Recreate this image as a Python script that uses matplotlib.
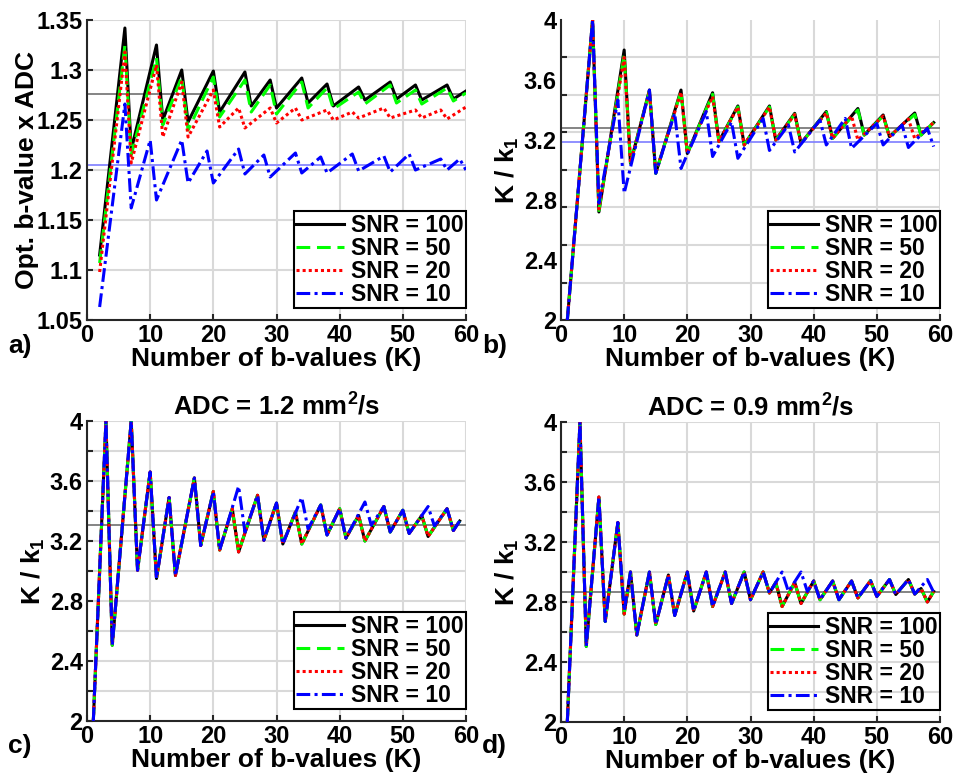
import numpy as np
import matplotlib
matplotlib.use("Agg")
import matplotlib.pyplot as plt
from matplotlib.ticker import MultipleLocator, FuncFormatter

plt.rcParams['font.family'] = ['Liberation Sans', 'DejaVu Sans']
plt.rcParams['font.weight'] = 'bold'
plt.rcParams['mathtext.fontset'] = 'custom'
plt.rcParams['mathtext.rm'] = 'Liberation Sans:bold'
plt.rcParams['mathtext.it'] = 'Liberation Sans:bold'
plt.rcParams['mathtext.bf'] = 'Liberation Sans:bold'

snr_labels = ['SNR = 100', 'SNR = 50', 'SNR = 20', 'SNR = 10']

# ---- panel a: optimal b-value x ADC ----
a_k_100 = [2, 6, 7, 11, 12, 15, 16, 20, 21, 25, 26, 29, 30, 34, 35, 38, 39, 43, 44, 48, 49, 52, 53, 57, 58, 60]
a_v_100 = [1.115, 1.342, 1.220, 1.325, 1.250, 1.300, 1.248, 1.299, 1.258, 1.298, 1.264, 1.290, 1.262,
           1.292, 1.267, 1.286, 1.264, 1.283, 1.270, 1.288, 1.271, 1.285, 1.270, 1.285, 1.271, 1.279]
a_v_50 = [1.107, 1.325, 1.215, 1.312, 1.245, 1.293, 1.240, 1.293, 1.253, 1.290, 1.258, 1.285, 1.256,
          1.288, 1.262, 1.282, 1.261, 1.278, 1.266, 1.285, 1.267, 1.280, 1.266, 1.282, 1.269, 1.277]
a_k_20 = [2, 6, 7, 11, 12, 15, 16, 20, 21, 24, 25, 29, 30, 33, 34, 38, 39, 42, 43, 47, 48, 52, 53, 56, 57, 60]
a_v_20 = [1.098, 1.318, 1.207, 1.305, 1.233, 1.288, 1.233, 1.280, 1.243, 1.262, 1.242, 1.262, 1.247,
          1.262, 1.250, 1.260, 1.250, 1.258, 1.252, 1.262, 1.252, 1.260, 1.252, 1.260, 1.251, 1.263]
a_k_10 = [2, 6, 7, 10, 11, 15, 16, 19, 20, 24, 25, 28, 29, 33, 34, 37, 38, 42, 43, 47, 48, 51, 52, 56, 57, 59, 60]
a_v_10 = [1.063, 1.266, 1.162, 1.230, 1.170, 1.230, 1.187, 1.219, 1.187, 1.221, 1.196, 1.215, 1.193, 1.217,
          1.197, 1.213, 1.197, 1.216, 1.199, 1.214, 1.198, 1.216, 1.200, 1.211, 1.200, 1.211, 1.200]
a_ref = [1.2757, 1.2055]

# ---- panel b: K / k1 ----
b_k_100 = [1, 5, 6, 10, 11, 14, 15, 19, 20, 24, 25, 28, 29, 33, 34, 37, 38, 42, 43, 47, 48, 51, 52, 56, 57, 59]
b_v_100 = [2.0, 4.0, 2.72, 3.80, 3.044, 3.533, 2.978, 3.533, 3.11, 3.515, 3.19, 3.427, 3.167,
           3.427, 3.20, 3.378, 3.178, 3.39, 3.211, 3.41, 3.233, 3.367, 3.222, 3.38, 3.233, 3.316]
b_v_50 = [2.0, 4.0, 2.73, 3.77, 3.05, 3.525, 2.978, 3.525, 3.11, 3.505, 3.19, 3.42, 3.167,
          3.42, 3.20, 3.372, 3.178, 3.385, 3.211, 3.40, 3.233, 3.36, 3.222, 3.37, 3.233, 3.316]
b_k_20 = [1, 5, 6, 10, 11, 14, 15, 19, 20, 24, 25, 28, 29, 33, 34, 37, 38, 42, 43, 46, 47, 51, 52, 55, 56, 59]
b_v_20 = [2.0, 4.0, 2.74, 3.75, 3.05, 3.52, 2.98, 3.52, 3.11, 3.49, 3.19, 3.42, 3.167,
          3.42, 3.20, 3.37, 3.178, 3.38, 3.211, 3.36, 3.20, 3.36, 3.222, 3.34, 3.21, 3.316]
b_k_10 = [1, 5, 6, 9, 10, 14, 15, 18, 19, 23, 24, 27, 28, 32, 33, 36, 37, 41, 42, 45, 46, 50, 51, 54, 55, 58, 59]
b_v_10 = [2.0, 4.0, 2.78, 3.467, 2.845, 3.533, 2.978, 3.378, 3.01, 3.39, 3.09, 3.32, 3.078, 3.344,
          3.13, 3.30, 3.12, 3.333, 3.167, 3.344, 3.144, 3.31, 3.167, 3.30, 3.15, 3.278, 3.156]
b_ref = [3.282, 3.185]

# ---- panel c: ADC = 1.2 ----
c_k = [1, 3, 4, 7, 8, 10, 11, 13, 14, 17, 18, 20, 21, 23, 24, 27, 28, 30, 31, 33, 34, 37, 38, 40,
       41, 43, 44, 47, 48, 50, 51, 53, 54, 57, 58, 59]
c_v = [2.0, 4.0, 2.505, 4.0, 3.005, 3.66, 2.95, 3.49, 2.97, 3.62, 3.17, 3.53, 3.14, 3.415, 3.127,
       3.505, 3.205, 3.453, 3.18, 3.393, 3.18, 3.44, 3.24, 3.415, 3.22, 3.37, 3.20, 3.43, 3.26,
       3.405, 3.25, 3.37, 3.23, 3.415, 3.27, 3.333]
c_k_10 = [1, 3, 4, 7, 8, 10, 11, 13, 14, 17, 18, 20, 21, 24, 25, 27, 28, 30, 31, 34, 35, 37, 38, 40,
          41, 44, 45, 47, 48, 50, 51, 54, 55, 57, 58, 59]
c_v_10 = [2.0, 4.0, 2.505, 4.0, 3.005, 3.66, 2.95, 3.49, 2.97, 3.62, 3.17, 3.53, 3.14, 3.565, 3.26,
          3.505, 3.205, 3.453, 3.18, 3.49, 3.28, 3.44, 3.24, 3.415, 3.22, 3.46, 3.305, 3.43, 3.26,
          3.405, 3.25, 3.43, 3.30, 3.415, 3.27, 3.333]
c_ref = 3.31

# ---- panel d: ADC = 0.9 ----
d_k = [1, 3, 4, 6, 7, 9, 10, 11, 12, 14, 15, 17, 18, 20, 21, 23, 24, 26, 27, 29, 30, 32, 33, 34,
       35, 37, 38, 40, 41, 43, 44, 46, 47, 49, 50, 52, 53, 55, 56, 57, 58, 59]
d_v = [2.0, 4.0, 2.504, 3.50, 2.67, 3.33, 2.72, 3.0, 2.58, 3.0, 2.65, 2.98, 2.71, 3.0, 2.74, 3.0,
       2.77, 3.0, 2.79, 3.0, 2.815, 3.0, 2.86, 2.93, 2.77, 2.93, 2.79, 2.94, 2.815, 2.94, 2.815,
       2.94, 2.827, 2.942, 2.837, 2.95, 2.85, 2.95, 2.853, 2.89, 2.80, 2.87]
d_k_10 = [1, 3, 4, 6, 7, 9, 10, 11, 12, 14, 15, 17, 18, 20, 21, 23, 24, 26, 27, 29, 30, 32, 33, 35,
          36, 38, 39, 40, 41, 43, 44, 46, 47, 49, 50, 52, 53, 55, 56, 58, 59]
d_v_10 = [2.0, 4.0, 2.504, 3.50, 2.67, 3.33, 2.74, 3.0, 2.58, 3.0, 2.65, 2.98, 2.71, 3.0, 2.74, 3.0,
          2.77, 3.0, 2.79, 3.0, 2.815, 3.0, 2.86, 3.0, 2.87, 3.0, 2.87, 2.94, 2.815, 2.94, 2.815,
          2.94, 2.827, 2.942, 2.837, 2.95, 2.85, 2.95, 2.853, 2.95, 2.865]
d_ref = 2.867

colors = ['black', '#00ff00', '#ff0000', '#0000ff']
styles = ['-', (0, (4.5, 2.2)), (0, (1.0, 1.0)), (0, (4.5, 1.4, 1.0, 1.4))]
FS = 17      # tick labels
FG = 16.5    # legend
FL = 19      # axis labels
FT = 18.5    # titles

fig = plt.figure(figsize=(9.61, 7.80), dpi=100)
W, H = 961.0, 780.0
gfmt = FuncFormatter(lambda v, p: '%g' % round(v, 4))


def make_ax(left, top, right, bottom):
    return fig.add_axes([left / W, 1 - bottom / H, (right - left) / W, (bottom - top) / H])


def style_ax(ax):
    for s in ['top', 'right']:
        ax.spines[s].set_visible(False)
    for s in ['left', 'bottom']:
        ax.spines[s].set_color('#262626')
        ax.spines[s].set_linewidth(1.5)
    ax.set_xlim(0, 60)
    ax.xaxis.set_major_locator(MultipleLocator(10))
    ax.grid(True, which='both', color='#d9d9d9', linewidth=1.5)
    ax.set_axisbelow(True)
    ax.tick_params(which='both', direction='in', length=4, width=1.5, color='#262626',
                   labelsize=FS, pad=3)
    ax.yaxis.set_major_formatter(gfmt)
    ax.set_xlabel('Number of b-values (K)', fontsize=FL, fontweight='bold', labelpad=0)


def draw(ax, series, loc_y):
    for (k, v), c, ls, lab in zip(series, colors, styles, snr_labels):
        ax.plot(k, v, color=c, linestyle=ls, linewidth=2.2, label=lab, zorder=3)
    leg = ax.legend(loc='lower right', bbox_to_anchor=(1.0, loc_y), borderaxespad=0,
                    fontsize=FG, labelspacing=0.0, handlelength=2.1, handletextpad=0.3,
                    borderpad=0.1, fancybox=False, framealpha=1, edgecolor='black')
    leg.get_frame().set_linewidth(1.5)
    return leg


# panel a
ax = make_ax(87, 20, 466, 320)
style_ax(ax)
ax.axhline(a_ref[0], color='#707070', linewidth=1.2, zorder=2)
ax.axhline(a_ref[1], color='#7d7dff', linewidth=1.2, zorder=2)
draw(ax, [(a_k_100, a_v_100), (a_k_100, a_v_50), (a_k_20, a_v_20), (a_k_10, a_v_10)], 0.04)
ax.set_ylim(1.05, 1.35)
ax.yaxis.set_major_locator(MultipleLocator(0.05))
ax.set_ylabel('Opt. b-value x ADC', fontsize=FL, fontweight='bold', labelpad=-2)

# panel b
ax = make_ax(561, 20, 940, 320)
style_ax(ax)
ax.axhline(b_ref[0], color='#707070', linewidth=1.2, zorder=2)
ax.axhline(b_ref[1], color='#7d7dff', linewidth=1.2, zorder=2)
draw(ax, [(b_k_100, b_v_100), (b_k_100, b_v_50), (b_k_20, b_v_20), (b_k_10, b_v_10)], 0.04)
ax.set_ylim(2, 4)
ax.yaxis.set_major_locator(MultipleLocator(0.4))
ax.yaxis.set_minor_locator(MultipleLocator(0.25))
ax.grid(False, axis='y', which='major')
ax.grid(True, axis='y', which='minor', color='#d9d9d9', linewidth=1.5)
ax.tick_params(axis='y', which='major', length=0)
ax.set_ylabel('K / k$_1$', fontsize=FL, fontweight='bold', labelpad=2)

# panel c
ax = make_ax(87, 421, 466, 721)
style_ax(ax)
ax.axhline(c_ref, color='#707070', linewidth=1.2, zorder=2)
draw(ax, [(c_k, c_v), (c_k, c_v), (c_k, c_v), (c_k_10, c_v_10)], 0.04)
ax.set_ylim(2, 4)
ax.yaxis.set_major_locator(MultipleLocator(0.4))
ax.yaxis.set_minor_locator(MultipleLocator(0.2))
ax.set_ylabel('K / k$_1$', fontsize=FL, fontweight='bold', labelpad=2)
ax.set_title('ADC = 1.2 mm$^2$/s', fontsize=FT, fontweight='bold', pad=4)

# panel d
ax = make_ax(561, 422, 940, 722)
style_ax(ax)
ax.axhline(d_ref, color='#707070', linewidth=1.2, zorder=2)
leg = draw(ax, [(d_k, d_v), (d_k, d_v), (d_k, d_v), (d_k_10, d_v_10)], 0.04)
leg.get_frame().set_facecolor('none')
ax.set_ylim(2, 4)
ax.yaxis.set_major_locator(MultipleLocator(0.4))
ax.yaxis.set_minor_locator(MultipleLocator(0.2))
ax.set_ylabel('K / k$_1$', fontsize=FL, fontweight='bold', labelpad=2)
ax.set_title('ADC = 0.9 mm$^2$/s', fontsize=FT, fontweight='bold', pad=4)

for txt, x, y in [('a)', 8, 346), ('b)', 482, 346), ('c)', 8, 746), ('d)', 482, 746)]:
    fig.text(x / W, 1 - y / H, txt, fontsize=FL, fontweight='bold', va='center', ha='left')

fig.savefig('out.png', dpi=100)
